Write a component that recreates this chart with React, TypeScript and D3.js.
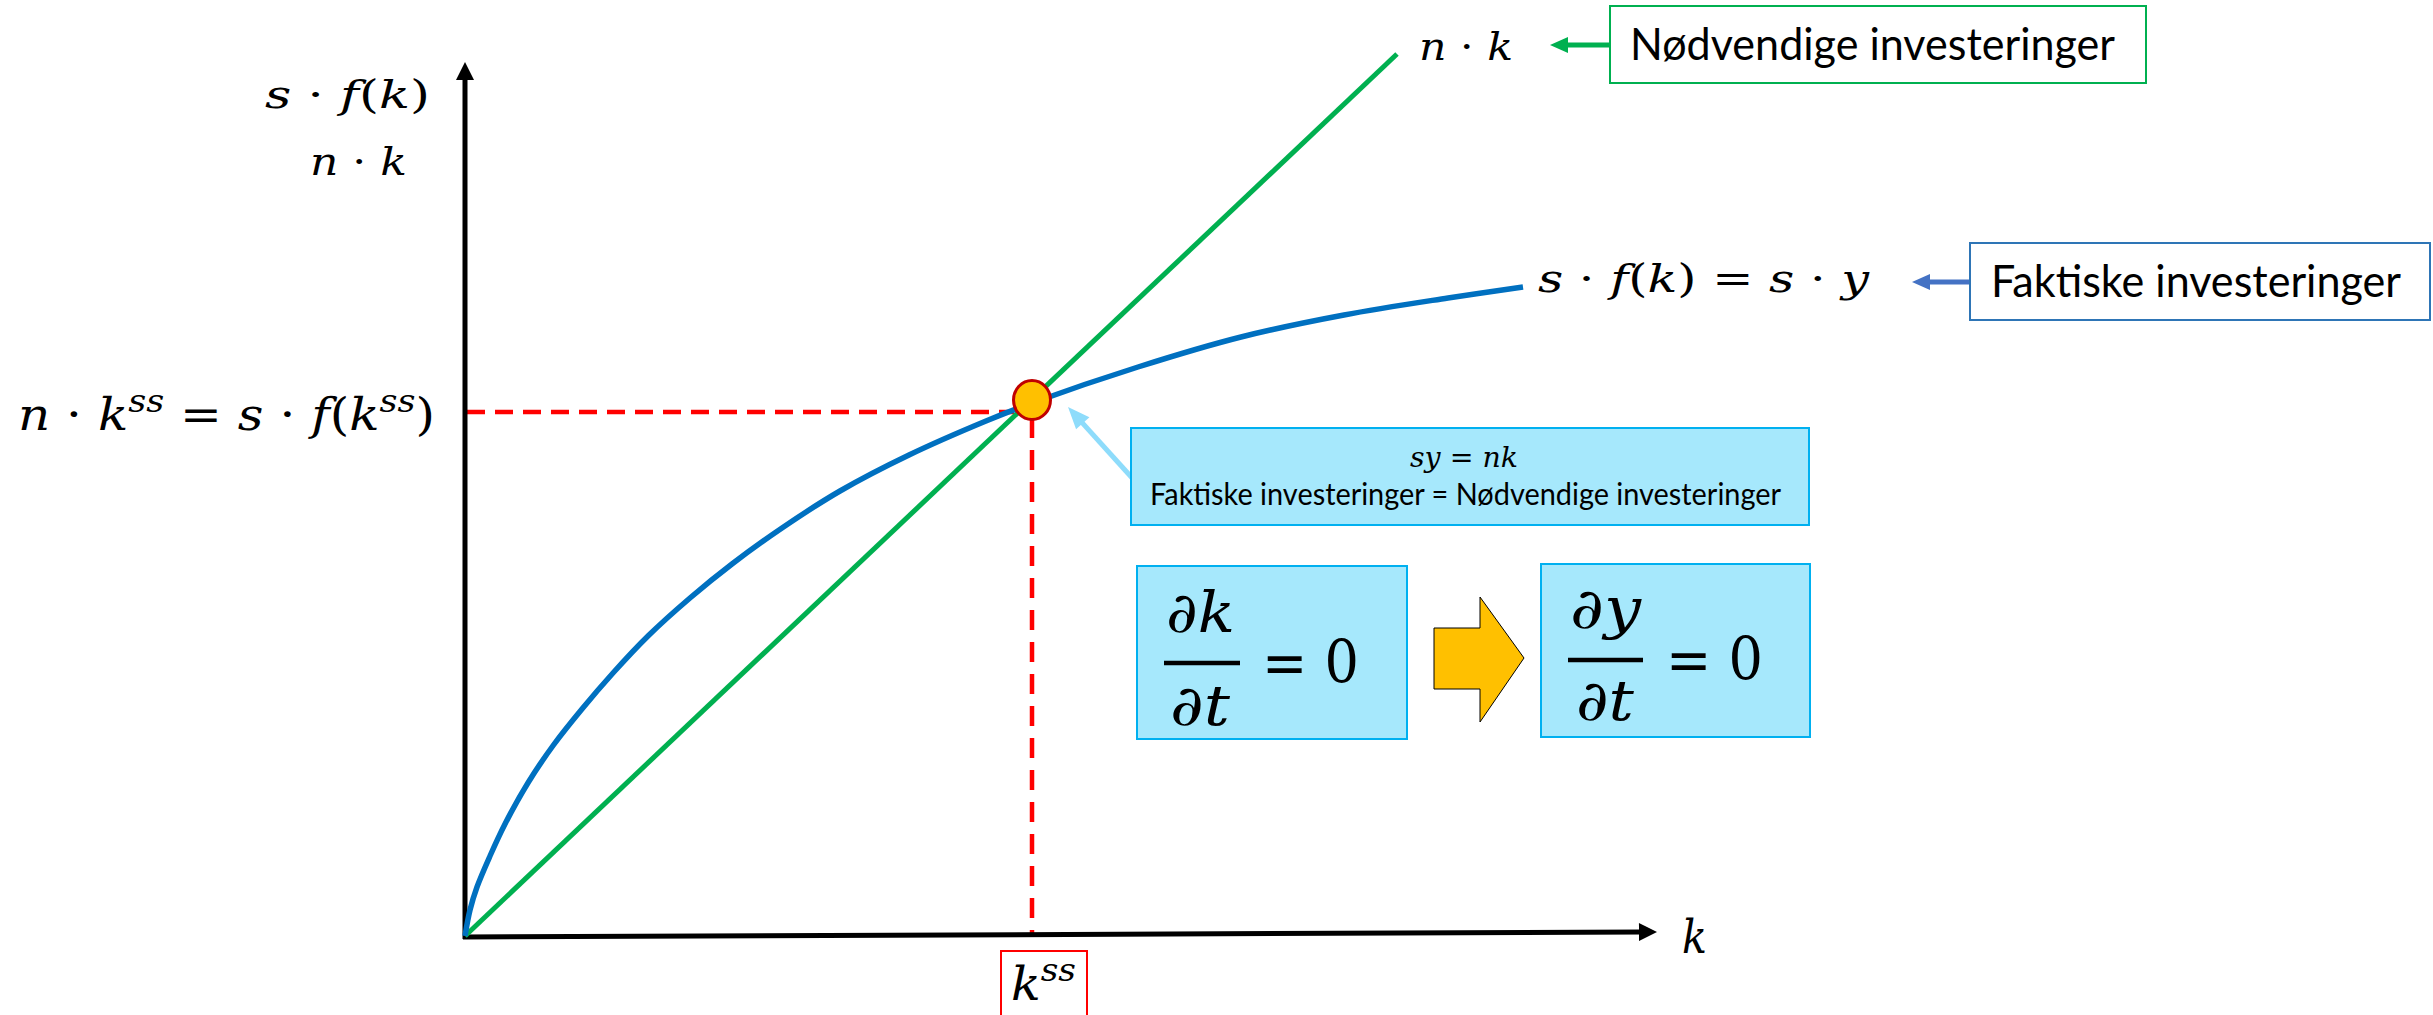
import React from 'react';
import * as d3 from 'd3';

// ---- data (k in model units; values in model units) ----
const curveK = [0, 0.05, 0.12, 0.25, 0.40, 0.635, 0.885, 1.17, 1.48, 1.83, 2.25, 2.67, 3.17, 3.75, 4.44, 5.21, 5.67, 6.73, 7.76, 8.79, 9.83, 10.58];
const curveSF = [0, 0.26, 0.49, 0.80, 1.12, 1.54, 1.91, 2.27, 2.63, 3.00, 3.38, 3.72, 4.08, 4.45, 4.81, 5.15, 5.33, 5.69, 5.99, 6.21, 6.38, 6.49];
const lineK = [0, 9.32];
const lineNK = [0, 8.82];
const kSS = 5.67;
const markerValue = 5.36;
const ssLevel = 5.24;
const xAxisEnd = [11.92, 0.04];
const yAxisEnd = 8.74;

const BLUE = '#0070C0';
const GREEN = '#00B050';
const RED = '#FF0000';
const CYAN_FILL = '#A6E8FC';
const CYAN_STROKE = '#00B0F0';
const MATH = "'DejaVu Serif', 'Liberation Serif', serif";
const SANS = "Lato, 'Open Sans', 'Liberation Sans', sans-serif";

type Part = [string, 'i' | 'r' | 's'];

function MText({ x, y, size, width, parts, anchor }: { x: number; y: number; size: number; width?: number; parts: Part[]; anchor?: string }) {
  let raised = false;
  const shift = size * 0.42;
  return (
    <text x={x} y={y} fontSize={size} fontFamily={MATH} fill="#000" textAnchor={anchor || 'start'}
      {...(width ? { textLength: width, lengthAdjust: 'spacingAndGlyphs' } : {})}>
      {parts.map((p, i) => {
        const [t, s] = p;
        let dy = 0;
        if (s === 's' && !raised) { dy = -shift; raised = true; }
        else if (s !== 's' && raised) { dy = shift; raised = false; }
        return (
          <tspan key={i} dy={dy || undefined} fontStyle={s === 'r' ? 'normal' : 'italic'} fontSize={s === 's' ? size * 0.7 : size}>
            {t}
          </tspan>
        );
      })}
    </text>
  );
}

function arrowHead(tail: [number, number], tip: [number, number], len: number, w: number) {
  const dx = tip[0] - tail[0];
  const dy = tip[1] - tail[1];
  const L = Math.hypot(dx, dy);
  const ux = dx / L, uy = dy / L;
  const bx = tip[0] - ux * len, by = tip[1] - uy * len;
  const px = -uy, py = ux;
  return `M${tip[0]},${tip[1]}L${bx + px * w / 2},${by + py * w / 2}L${bx - px * w / 2},${by - py * w / 2}Z`;
}

function Arrow({ tail, tip, color, width, len, head }: { tail: [number, number]; tip: [number, number]; color: string; width: number; len: number; head: number }) {
  const dx = tip[0] - tail[0];
  const dy = tip[1] - tail[1];
  const L = Math.hypot(dx, dy);
  const end: [number, number] = [tip[0] - dx / L * (len - 2), tip[1] - dy / L * (len - 2)];
  return (
    <g>
      <line x1={tail[0]} y1={tail[1]} x2={end[0]} y2={end[1]} stroke={color} strokeWidth={width} />
      <path d={arrowHead(tail, tip, len, head)} fill={color} />
    </g>
  );
}

export default function App() {
  const W = 2433, H = 1015;
  const x = d3.scaleLinear().domain([0, 10]).range([465, 1465]);
  const y = d3.scaleLinear().domain([0, 9]).range([936, 36]);

  const curvePts = curveK.map((k, i) => [k, curveSF[i]] as [number, number]);
  const sfLine = d3.line<[number, number]>().x(d => x(d[0])).y(d => y(d[1])).curve(d3.curveCatmullRom.alpha(0.5));
  const nkPts = lineK.map((k, i) => [k, lineNK[i]] as [number, number]);
  const nkLine = d3.line<[number, number]>().x(d => x(d[0])).y(d => y(d[1]));

  const ox = x(0), oy = y(0);
  const xTip: [number, number] = [x(xAxisEnd[0]), y(xAxisEnd[1])];
  const yTip: [number, number] = [ox, y(yAxisEnd)];

  return (
    <svg width={W} height={H} style={{ position: 'absolute', left: 0, top: 0, background: '#fff' }}>
      <rect x={0} y={0} width={W} height={H} fill="#fff" />

      {/* dashed steady-state guides */}
      <line x1={ox + 2} y1={y(ssLevel)} x2={x(kSS) - 18} y2={y(ssLevel)} stroke={RED} strokeWidth={4.5} strokeDasharray="18 10" />
      <line x1={x(kSS)} y1={y(markerValue) + 18} x2={x(kSS)} y2={oy} stroke={RED} strokeWidth={4.5} strokeDasharray="20 12" />

      {/* axes */}
      <line x1={ox} y1={oy + 3} x2={yTip[0]} y2={yTip[1] + 14} stroke="#000" strokeWidth={5} />
      <path d={arrowHead([ox, oy], yTip, 18, 18)} fill="#000" />
      <line x1={ox - 2} y1={oy + 1} x2={xTip[0] - 14} y2={xTip[1]} stroke="#000" strokeWidth={5} />
      <path d={arrowHead([ox, oy + 1], xTip, 18, 18)} fill="#000" />

      {/* curves */}
      <path d={nkLine(nkPts) || ''} fill="none" stroke={GREEN} strokeWidth={5} />
      <path d={sfLine(curvePts) || ''} fill="none" stroke={BLUE} strokeWidth={5.5} />

      {/* steady state marker */}
      <ellipse cx={x(kSS)} cy={y(markerValue)} rx={18.5} ry={19.5} fill="#FFC000" stroke="#C00000" strokeWidth={3} />

      {/* axis labels */}
      <MText x={265} y={108} size={40} width={165} parts={[['s', 'i'], [' · ', 'r'], ['f', 'i'], ['(', 'r'], ['k', 'i'], [')', 'r']]} />
      <MText x={310} y={175} size={40} width={97} parts={[['n', 'i'], [' · ', 'r'], ['k', 'i']]} />
      <MText x={18} y={430} size={44} width={417} parts={[['n', 'i'], [' · ', 'r'], ['k', 'i'], ['ss', 's'], [' = ', 'r'], ['s', 'i'], [' · ', 'r'], ['f', 'i'], ['(', 'r'], ['k', 'i'], ['ss', 's'], [')', 'r']]} />
      <MText x={1682} y={953} size={46} width={25} parts={[['k', 'i']]} />

      {/* k^ss box */}
      <rect x={1001} y={951} width={86} height={70} fill="#fff" stroke={RED} strokeWidth={2} />
      <MText x={1011} y={1000} size={46} width={65} parts={[['k', 'i'], ['ss', 's']]} />

      {/* n·k label and box */}
      <MText x={1419} y={60} size={40} width={94} parts={[['n', 'i'], [' · ', 'r'], ['k', 'i']]} />
      <Arrow tail={[1610, 45]} tip={[1550, 45]} color={GREEN} width={5} len={18} head={16} />
      <rect x={1610} y={6} width={536} height={77} fill="#fff" stroke={GREEN} strokeWidth={2} />
      <text x={1630} y={60} fontSize={44} fontFamily={SANS} textLength={485} lengthAdjust="spacingAndGlyphs">Nødvendige investeringer</text>

      {/* s·f(k) label and box */}
      <MText x={1538} y={292} size={40} width={331} parts={[['s', 'i'], [' · ', 'r'], ['f', 'i'], ['(', 'r'], ['k', 'i'], [')', 'r'], [' = ', 'r'], ['s', 'i'], [' · ', 'r'], ['y', 'i']]} />
      <Arrow tail={[1969, 282]} tip={[1912, 282]} color="#4472C4" width={5} len={18} head={16} />
      <rect x={1970} y={243} width={460} height={77} fill="#fff" stroke="#2E75B6" strokeWidth={2} />
      <text x={1991} y={297} fontSize={44} fontFamily={SANS} textLength={410} lengthAdjust="spacingAndGlyphs">Faktiske investeringer</text>

      {/* callout */}
      <Arrow tail={[1134, 480]} tip={[1068, 407]} color="#8EDCFB" width={5} len={22} head={18} />
      <rect x={1131} y={428} width={678} height={97} fill={CYAN_FILL} stroke={CYAN_STROKE} strokeWidth={2} />
      <MText x={1410} y={467} size={28} width={108} parts={[['sy', 'i'], [' = ', 'r'], ['nk', 'i']]} />
      <text x={1150} y={505} fontSize={30} fontFamily={SANS} textLength={631} lengthAdjust="spacingAndGlyphs">Faktiske investeringer = Nødvendige investeringer</text>

      {/* dk/dt box */}
      <rect x={1137} y={566} width={270} height={173} fill={CYAN_FILL} stroke={CYAN_STROKE} strokeWidth={2} />
      <MText x={1166} y={632} size={56} width={69} parts={[['∂', 'r'], ['k', 'i']]} />
      <line x1={1164} y1={663} x2={1240} y2={663} stroke="#000" strokeWidth={4.5} />
      <MText x={1170} y={725} size={56} width={60} parts={[['∂', 'r'], ['t', 'i']]} />
      <MText x={1262} y={683} size={60} width={97} parts={[['= 0', 'r']]} />

      {/* block arrow */}
      <path d="M1434,628L1480,628L1480,597L1524,658L1480,722L1480,689L1434,689Z" fill="#FFC000" stroke="#000" strokeWidth={1} />

      {/* dy/dt box */}
      <rect x={1541} y={564} width={269} height={173} fill={CYAN_FILL} stroke={CYAN_STROKE} strokeWidth={2} />
      <MText x={1570} y={628} size={56} width={71} parts={[['∂', 'r'], ['y', 'i']]} />
      <line x1={1568} y1={660} x2={1643} y2={660} stroke="#000" strokeWidth={4.5} />
      <MText x={1576} y={720} size={56} width={58} parts={[['∂', 'r'], ['t', 'i']]} />
      <MText x={1666} y={680} size={60} width={97} parts={[['= 0', 'r']]} />
    </svg>
  );
}
